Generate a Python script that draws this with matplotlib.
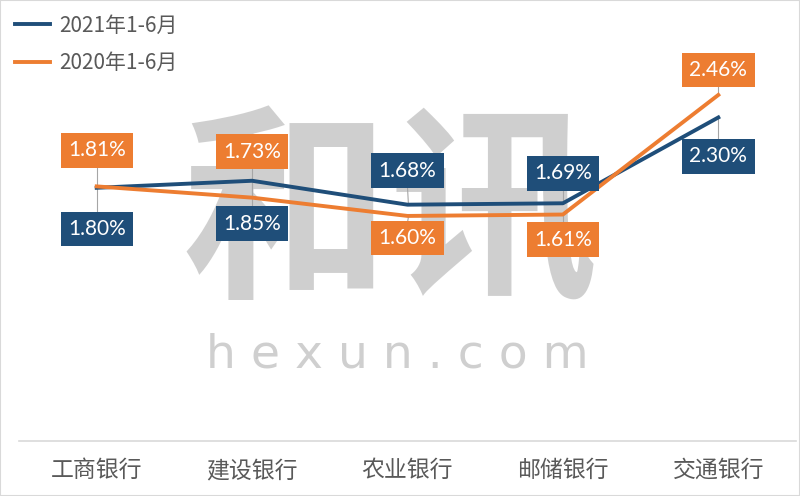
import matplotlib
matplotlib.use("Agg")
import matplotlib.pyplot as plt
from matplotlib.patches import Rectangle

plt.rcParams['font.family'] = ['Noto Sans CJK SC', 'DejaVu Sans']

categories = ['工商银行', '建设银行', '农业银行', '邮储银行', '交通银行']
series_names = ['2021年1-6月', '2020年1-6月']
values_2021 = [1.80, 1.85, 1.68, 1.69, 2.30]
values_2020 = [1.81, 1.73, 1.60, 1.61, 2.46]

blue = '#1F4E79'
orange = '#ED7D31'
W, H = 800, 496

fig = plt.figure(figsize=(8, 4.96), dpi=100)
ax = fig.add_axes([19 / W, 55 / H, (796 - 19) / W, (441 - 19) / H])
x = list(range(len(categories)))
ax.set_xlim(-0.5, len(categories) - 0.5)
ax.set_ylim(0, 3.0)

# watermark (behind everything in the axes)
ax.text(390 / W, 1 - 220 / H, '和讯', transform=fig.transFigure, fontsize=150,
        fontweight='bold', color='#c4c4c4', alpha=0.8, ha='center', va='center', zorder=0)
ax.text(397 / W, 1 - 355 / H, 'h e x u n . c o m', transform=fig.transFigure,
        family='DejaVu Sans', fontsize=34, color='#cfcfcf', ha='center', va='center', zorder=0)

ax.plot(x, values_2021, color=blue, lw=2.8, label=series_names[0], zorder=3)
ax.plot(x, values_2020, color=orange, lw=2.8, label=series_names[1], zorder=3)

# data labels (pixel offsets from points)
off_2021 = [(0, -41), (0, -43), (0, 34), (0, 30), (0, -39)]
off_2020 = [(0, 36), (0, 46), (0, -22), (0, -25), (0, 25)]

def px_to_data(px, py):
    inv = ax.transData.inverted()
    return inv.transform((px, py))

fig.canvas.draw()
for vals, offs, col in [(values_2021, off_2021, blue), (values_2020, off_2020, orange)]:
    for i, (v, (dx, dy)) in enumerate(zip(vals, offs)):
        p = ax.transData.transform((i, v))
        lx, ly = px_to_data(p[0] + dx, p[1] + dy)
        edge_y = ly - (16 / 140.7) * (1 if dy > 0 else -1)
        ax.plot([i, lx], [v, edge_y], color='#a6a6a6', lw=0.8, zorder=2)
        ax.text(lx, ly, f'{v:.2f}%', family=['Lato', 'DejaVu Sans'], fontsize=15,
                color='white', ha='center', va='center', zorder=5,
                bbox=dict(boxstyle='square,pad=0.35', fc=col, ec='none'))

ax.set_xticks(x)
ax.set_xticklabels(categories, fontsize=16.5, color='#595959')
ax.tick_params(axis='x', length=0, pad=13)
ax.set_yticks([])
for s in ['top', 'right', 'left']:
    ax.spines[s].set_visible(False)
ax.spines['bottom'].set_color('#d9d9d9')
ax.spines['bottom'].set_linewidth(1.2)
ax.patch.set_alpha(0)

leg = fig.legend(loc='upper left', bbox_to_anchor=(0.0, 1.0), frameon=False,
                 fontsize=15, handlelength=1.7, handletextpad=0.45, labelspacing=0.75,
                 borderaxespad=0.3)
for t in leg.get_texts():
    t.set_color('#595959')

fig.patches.append(Rectangle((0, 0), 1, 1, transform=fig.transFigure, fill=False,
                             ec='#d9d9d9', lw=1.5))
fig.savefig('out.png', dpi=100)
